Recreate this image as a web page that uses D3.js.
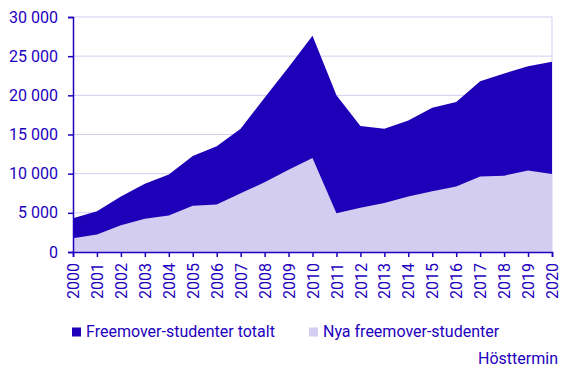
<!DOCTYPE html>
<html>
<head>
<meta charset="utf-8">
<script src="https://cdn.jsdelivr.net/npm/d3@7"></script>
<style>
  body { margin: 0; background: #fff; }
  svg text { font-family: Roboto, "Open Sans", sans-serif; }
</style>
</head>
<body>
<div id="chart"></div>
<script>
/* Freemover-studenter, hösttermin 2000-2020 */

const years = d3.range(2000, 2021);
const totalt = [4300, 5200, 7100, 8700, 9900, 12250, 13500, 15750, 19700, 23600, 27600,
                20000, 16100, 15750, 16800, 18400, 19150, 21800, 22800, 23700, 24300];
const nya = [1750, 2250, 3400, 4250, 4650, 5900, 6050, 7500, 8900, 10500, 12000,
             4950, 5650, 6250, 7100, 7750, 8350, 9650, 9750, 10400, 9950];
const seriesNames = ["Freemover-studenter totalt", "Nya freemover-studenter"];
const yTicks = [0, 5000, 10000, 15000, 20000, 25000, 30000];

const width = 567,
      height = 378,
      margin = ({top: 17, right: 15, bottom: 126, left: 73});

const dark = "#1e00b9",
      light = "#d2cdf1",
      ink = "#1e00be";

const svg = d3.select("#chart")
              .append("svg")
              .attr("width", width)
              .attr("height", height);

const x = d3.scaleLinear()
            .domain([2000, 2020])
            .range([margin.left, width - margin.right]);

const y = d3.scaleLinear()
            .domain([0, 30000])
            .range([height - margin.bottom, margin.top]);

const fmt = d3.formatLocale({decimal: ",", thousands: " ", grouping: [3], currency: ["", ""]}).format(",d");

/* gridlines */
svg.append("g")
   .selectAll("line")
   .data(yTicks.slice(1))
   .join("line")
   .attr("x1", margin.left)
   .attr("x2", width - margin.right)
   .attr("y1", d => y(d))
   .attr("y2", d => y(d))
   .attr("stroke", light)
   .attr("stroke-width", 1);

svg.append("line")
   .attr("x1", width - margin.right)
   .attr("x2", width - margin.right)
   .attr("y1", y(30000))
   .attr("y2", y(0))
   .attr("stroke", light);

/* areas */
const area = vals => d3.area()
    .x((d, i) => x(years[i]))
    .y0(y(0))
    .y1(d => y(d))(vals);

svg.append("path")
   .attr("d", area(totalt))
   .attr("fill", dark);

svg.append("path")
   .attr("d", area(nya))
   .attr("fill", light);

/* axes */
const yAxis = svg.append("g")
   .attr("transform", `translate(${margin.left},0)`)
   .call(d3.axisLeft(y).tickValues(yTicks).tickFormat(fmt).tickSize(5).tickPadding(10));

const xAxis = svg.append("g")
   .attr("transform", `translate(0,${y(0)})`)
   .call(d3.axisBottom(x).tickValues(years).tickFormat(d3.format("d")).tickSize(5).tickPadding(6));

xAxis.selectAll("text")
   .attr("transform", "rotate(-90)")
   .attr("text-anchor", "end")
   .attr("dx", 0)
   .attr("dy", "0.35em")
   .attr("x", -11)
   .attr("y", 0);

for (let g of [xAxis, yAxis]) {
    g.select(".domain").attr("stroke", ink).attr("stroke-width", 1.5);
    g.selectAll(".tick line").attr("stroke", ink).attr("stroke-width", 1.5);
    g.selectAll("text").attr("fill", ink).style("font-size", "16px");
}

/* legend */
const legend = svg.append("g");
const legendX = [72, 309];
[dark, light].forEach((c, i) => {
    legend.append("rect")
          .attr("x", legendX[i])
          .attr("y", 327.5)
          .attr("width", 9)
          .attr("height", 9)
          .attr("fill", c);
    legend.append("text")
          .attr("x", legendX[i] + 14)
          .attr("y", 337)
          .attr("fill", ink)
          .style("font-size", "16px")
          .text(seriesNames[i]);
});

svg.append("text")
   .attr("x", 558)
   .attr("y", 364)
   .attr("text-anchor", "end")
   .attr("fill", ink)
   .style("font-size", "16px")
   .text("Hösttermin");
</script>
</body>
</html>
